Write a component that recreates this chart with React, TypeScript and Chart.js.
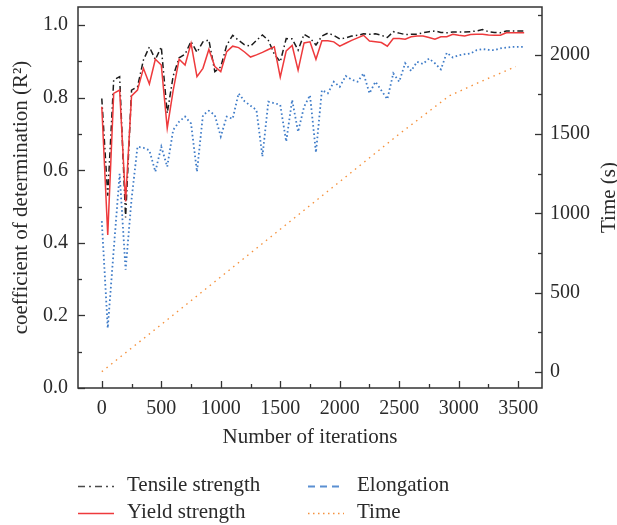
import React, { useEffect, useRef } from "react";
import { Chart, registerables } from "chart.js";

Chart.register(...registerables);

// ---------------- data ----------------
const iterations = [
  0, 50, 100, 150, 200, 250, 300, 350, 400, 450, 500, 550, 600, 650, 700, 750,
  800, 850, 900, 950, 1000, 1050, 1100, 1150, 1200, 1250, 1300, 1350, 1400, 1450,
  1500, 1550, 1600, 1650, 1700, 1750, 1800, 1850, 1900, 1950, 2000, 2050, 2100,
  2150, 2200, 2250, 2300, 2350, 2400, 2450, 2500, 2550, 2600, 2650, 2700, 2750,
  2800, 2850, 2900, 2950, 3000, 3050, 3100, 3150, 3200, 3250, 3300, 3350, 3400,
  3450, 3500, 3550,
];

const tensileStrength = [
  0.798, 0.53, 0.849, 0.858, 0.47, 0.821, 0.83, 0.904, 0.94, 0.905, 0.94, 0.757,
  0.86, 0.91, 0.92, 0.955, 0.925, 0.954, 0.959, 0.872, 0.885, 0.945, 0.972, 0.958,
  0.946, 0.942, 0.958, 0.973, 0.958, 0.92, 0.899, 0.963, 0.962, 0.931, 0.975,
  0.965, 0.945, 0.97, 0.978, 0.972, 0.962, 0.965, 0.97, 0.972, 0.976, 0.975, 0.976,
  0.972, 0.966, 0.982, 0.978, 0.974, 0.975, 0.975, 0.979, 0.982, 0.984, 0.98,
  0.979, 0.981, 0.981, 0.981, 0.982, 0.984, 0.988, 0.982, 0.98, 0.979, 0.984,
  0.984, 0.984, 0.984,
];

const yieldStrength = [
  0.775, 0.422, 0.812, 0.821, 0.514, 0.805, 0.821, 0.881, 0.838, 0.906, 0.89,
  0.716, 0.82, 0.906, 0.89, 0.95, 0.858, 0.881, 0.933, 0.886, 0.872, 0.927, 0.942,
  0.938, 0.926, 0.912, 0.918, 0.925, 0.933, 0.94, 0.857, 0.929, 0.944, 0.876,
  0.951, 0.954, 0.906, 0.957, 0.957, 0.954, 0.942, 0.95, 0.958, 0.965, 0.972,
  0.956, 0.954, 0.952, 0.942, 0.963, 0.963, 0.961, 0.968, 0.97, 0.97, 0.966,
  0.961, 0.968, 0.968, 0.975, 0.972, 0.97, 0.974, 0.975, 0.975, 0.973, 0.972,
  0.972, 0.979, 0.979, 0.979, 0.979,
];

const elongation = [
  0.46, 0.165, 0.38, 0.59, 0.326, 0.52, 0.665, 0.662, 0.655, 0.596, 0.665, 0.61,
  0.711, 0.734, 0.748, 0.729, 0.596, 0.752, 0.764, 0.752, 0.693, 0.748, 0.742,
  0.812, 0.79, 0.778, 0.766, 0.638, 0.789, 0.785, 0.78, 0.679, 0.794, 0.706, 0.775,
  0.807, 0.649, 0.821, 0.812, 0.844, 0.83, 0.86, 0.85, 0.844, 0.867, 0.812, 0.844,
  0.82, 0.796, 0.867, 0.844, 0.895, 0.874, 0.899, 0.893, 0.908, 0.895, 0.878,
  0.924, 0.911, 0.917, 0.92, 0.922, 0.931, 0.934, 0.932, 0.931, 0.936, 0.938, 0.94,
  0.94, 0.94,
];

const timeIterations = [0, 500, 1000, 1500, 2000, 2500, 2920, 3200, 3480];
const timeSeconds = [3, 300, 600, 900, 1200, 1500, 1740, 1835, 1925];

const xTickValues = [0, 500, 1000, 1500, 2000, 2500, 3000, 3500];
const yTickValues = [0, 0.2, 0.4, 0.6, 0.8, 1.0];
const y1TickValues = [0, 500, 1000, 1500, 2000];

const seriesNames = ["Tensile strength", "Yield strength", "Elongation", "Time"];
const xTitle = "Number of iterations";
const yTitle = "coefficient of determination (R\u00B2)";
const y1Title = "Time (s)";

// ---------------- styles ----------------
const FONT = '"Liberation Serif", "Times New Roman", serif';
const TEXT = "#2a2a2a";
const AXIS = "#333333";
const C_TENSILE = "#1c1c1c";
const C_YIELD = "#ee3a3c";
const C_ELONG = "#3f7cc8";
const C_TIME = "#f5913c";

const X_SCALE_H = 62;

const setTicks = (values: number[]) => (s: any) => {
  s.ticks = values.map((v) => ({ value: v }));
};

const framePlugin = {
  id: "frameTicks",
  afterDraw(chart: any) {
    const { ctx, chartArea, scales } = chart;
    const { left, right, top, bottom } = chartArea;
    ctx.save();
    ctx.strokeStyle = AXIS;
    ctx.lineWidth = 1.5;
    ctx.strokeRect(left, top, right - left, bottom - top);
    ctx.lineWidth = 1.3;
    const tick = (x1: number, y1: number, x2: number, y2: number) => {
      ctx.beginPath();
      ctx.moveTo(x1, y1);
      ctx.lineTo(x2, y2);
      ctx.stroke();
    };
    // bottom ticks (major + minor)
    const xs = scales.x;
    for (let v = Math.ceil(xs.min / 250) * 250; v <= xs.max; v += 250) {
      const px = Math.round(xs.getPixelForValue(v)) + 0.5;
      const len = v % 500 === 0 ? 7 : 4;
      tick(px, bottom, px, bottom - len);
    }
    // left ticks
    const ys = scales.y;
    for (let k = 0; k * 0.1 <= ys.max + 1e-9; k++) {
      const py = Math.round(ys.getPixelForValue(k * 0.1)) + 0.5;
      const len = k % 2 === 0 ? 7 : 4;
      tick(left, py, left + len, py);
    }
    // right ticks
    const y1 = scales.y1;
    for (let v = Math.ceil(y1.min / 250) * 250; v <= y1.max; v += 250) {
      const py = Math.round(y1.getPixelForValue(v)) + 0.5;
      const len = v % 500 === 0 ? 7 : 4;
      tick(right, py, right - len, py);
    }
    // right title (reads bottom to top)
    ctx.fillStyle = TEXT;
    ctx.font = `21px ${FONT}`;
    ctx.translate(615, (top + bottom) / 2);
    ctx.rotate(-Math.PI / 2);
    ctx.textAlign = "center";
    ctx.textBaseline = "alphabetic";
    ctx.fillText(y1Title, 0, 0);
    ctx.restore();

    // legend
    ctx.save();
    const items = [
      { name: seriesNames[0], color: "#4a4a4a", dash: [7, 4, 2, 4], w: 1.6, x: 78, y: 486 },
      { name: seriesNames[1], color: C_YIELD, dash: [], w: 1.4, x: 78, y: 513 },
      { name: seriesNames[2], color: "#5a8fd2", dash: [7, 5], w: 2, x: 308, y: 486 },
      { name: seriesNames[3], color: C_TIME, dash: [1.5, 3.5], w: 1.3, x: 308, y: 513 },
    ];
    ctx.font = `21px ${FONT}`;
    ctx.textBaseline = "middle";
    ctx.textAlign = "left";
    for (const it of items) {
      ctx.strokeStyle = it.color;
      ctx.lineWidth = it.w;
      ctx.setLineDash(it.dash);
      ctx.beginPath();
      ctx.moveTo(it.x, it.y + 0.5);
      ctx.lineTo(it.x + 36, it.y + 0.5);
      ctx.stroke();
      ctx.fillStyle = TEXT;
      ctx.fillText(it.name, it.x + 49, it.y - 1);
    }
    ctx.restore();
  },
};

export default function App() {
  const ref = useRef<HTMLCanvasElement | null>(null);

  useEffect(() => {
    if (!ref.current) return;
    const chart = new Chart(ref.current, {
      type: "line",
      data: {
        datasets: [
          {
            label: seriesNames[0],
            data: iterations.map((x, i) => ({ x, y: tensileStrength[i] })),
            borderColor: C_TENSILE,
            borderWidth: 1.5,
            borderDash: [6, 3, 1.5, 3],
            yAxisID: "y",
            order: 1,
          },
          {
            label: seriesNames[1],
            data: iterations.map((x, i) => ({ x, y: yieldStrength[i] })),
            borderColor: C_YIELD,
            borderWidth: 1.5,
            yAxisID: "y",
            order: 0,
          },
          {
            label: seriesNames[2],
            data: iterations.map((x, i) => ({ x, y: elongation[i] })),
            borderColor: C_ELONG,
            borderWidth: 1.8,
            borderDash: [1.6, 2.6],
            yAxisID: "y",
            order: 2,
          },
          {
            label: seriesNames[3],
            data: timeIterations.map((x, i) => ({ x, y: timeSeconds[i] })),
            borderColor: C_TIME,
            borderWidth: 1.4,
            borderDash: [1.5, 4.5],
            yAxisID: "y1",
            order: 3,
          },
        ],
      },
      options: {
        responsive: false,
        animation: false,
        devicePixelRatio: 1,
        layout: { padding: { left: 0, right: 0, top: 7, bottom: 137 - X_SCALE_H } },
        plugins: { legend: { display: false }, tooltip: { enabled: false } },
        elements: { point: { radius: 0 }, line: { tension: 0, fill: false } },
        scales: {
          x: {
            type: "linear",
            position: "bottom",
            min: -200,
            max: 3700,
            grid: { display: false, drawTicks: false },
            border: { display: false },
            afterBuildTicks: setTicks(xTickValues),
            ticks: {
              padding: 9,
              maxRotation: 0,
              autoSkip: false,
              color: TEXT,
              font: { family: FONT, size: 20 },
              callback: (v: any) => String(v),
            },
            title: {
              display: true,
              text: xTitle,
              color: TEXT,
              font: { family: FONT, size: 21 },
              padding: { top: 0, bottom: 0 },
            },
            afterFit: (s: any) => {
              s.height = X_SCALE_H;
              s.paddingLeft = 0;
              s.paddingRight = 0;
            },
          },
          y: {
            type: "linear",
            position: "left",
            min: 0,
            max: 1.05,
            grid: { display: false, drawTicks: false },
            border: { display: false },
            afterBuildTicks: setTicks(yTickValues),
            ticks: {
              padding: 10,
              autoSkip: false,
              color: TEXT,
              font: { family: FONT, size: 20 },
              callback: (v: any) => Number(v).toFixed(1),
            },
            title: {
              display: true,
              text: yTitle,
              color: TEXT,
              font: { family: FONT, size: 21 },
              padding: { top: 9, bottom: 0 },
            },
            afterFit: (s: any) => {
              s.width = 78;
              s.paddingTop = 0;
              s.paddingBottom = 0;
            },
          },
          y1: {
            type: "linear",
            position: "right",
            min: -100,
            max: 2300,
            grid: { display: false, drawTicks: false },
            border: { display: false },
            afterBuildTicks: setTicks(y1TickValues),
            ticks: {
              padding: 8,
              autoSkip: false,
              color: TEXT,
              font: { family: FONT, size: 20 },
              callback: (v: any) => String(v),
            },
            afterFit: (s: any) => {
              s.width = 75;
              s.paddingTop = 0;
              s.paddingBottom = 0;
            },
          },
        },
      },
      plugins: [framePlugin],
    } as any);
    return () => chart.destroy();
  }, []);

  return (
    <div style={{ position: "absolute", left: 0, top: 0, width: 617, height: 525, background: "#fff" }}>
      <canvas ref={ref} width={617} height={525} style={{ display: "block" }} />
    </div>
  );
}
